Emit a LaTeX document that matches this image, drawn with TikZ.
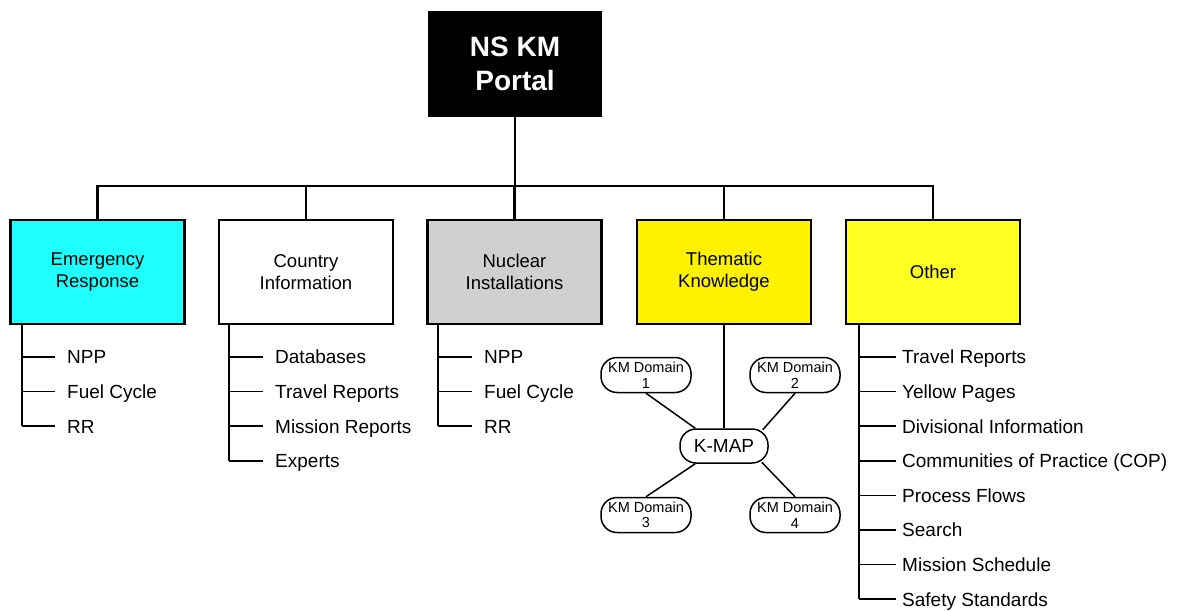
\documentclass[tikz,border=0pt]{standalone}
\usepackage{fontspec}
\setmainfont{Liberation Sans}
\begin{document}
\begin{tikzpicture}[x=1pt,y=-1pt,
  portal/.style={draw=black,fill=black,text=white,minimum width=173pt,minimum height=105pt,
    align=center,font=\fontsize{28}{34}\selectfont\bfseries},
  cat/.style={draw=black,line width=2.5pt,minimum width=174pt,minimum height=104pt,
    align=center,font=\fontsize{18.5}{22}\selectfont},
  item/.style={inner sep=0pt,anchor=west,text height=13.6pt,text depth=0pt,
    font=\fontsize{19}{22}\selectfont},
  link/.style={line width=2.2pt},
  branch/.style={line width=1.5pt},
  kmapnode/.style={draw=black,line width=1.5pt,rounded corners=16pt,minimum width=88pt,
    minimum height=34pt,inner sep=0pt,font=\fontsize{19}{22}\selectfont},
  kmdomain/.style={draw=black,line width=1.5pt,rounded corners=16pt,minimum width=90pt,
    minimum height=35pt,inner sep=0pt,align=center,font=\fontsize{14.5}{15.5}\selectfont},
]
\useasboundingbox (0,0) rectangle (1182,610);

% root
\node[portal] (portal) at (515,63.5) {NS KM\\Portal};

% categories
\node[cat,fill={rgb,255:red,31;green,255;blue,255}] (er) at (97.5,272) {Emergency\\Response};
\node[cat,fill=white] (ci) at (306,272) {Country\\Information};
\node[cat,fill={rgb,255:red,208;green,208;blue,208}] (ni) at (514.5,272) {Nuclear\\Installations};
\node[cat,fill=yellow] (tk) at (724,272) {Thematic\\Knowledge};
\node[cat,fill={rgb,255:red,255;green,255;blue,34}] (ot) at (933,272) {Other};

% bus
\coordinate (bus) at (515,186);
\draw[link] (portal.south) -- (bus);
\draw[link] (er.north) -- (er.north |- bus) -- (ot.north |- bus) -- (ot.north);
\draw[link] (ci.north) -- (ci.north |- bus);
\draw[link] (ni.north) -- (ni.north |- bus);
\draw[link] (tk.north) -- (tk.north |- bus);

% lists under the categories
\coordinate (er-top) at (22,324);
\foreach \t [count=\i from 0] in {NPP,Fuel Cycle,RR}
  \node[item] (er-\i) at (67,357+34.6*\i) {\t};
\draw[branch] (er-top) -- (er-top |- er-2.west);
\foreach \i in {0,1,2}
  \draw[branch] (er-top |- er-\i.west) -- ([xshift=-12pt]er-\i.west);

\coordinate (ci-top) at (229,324);
\foreach \t [count=\i from 0] in {Databases,Travel Reports,Mission Reports,Experts}
  \node[item] (ci-\i) at (275,357+34.6*\i) {\t};
\draw[branch] (ci-top) -- (ci-top |- ci-3.west);
\foreach \i in {0,...,3}
  \draw[branch] (ci-top |- ci-\i.west) -- ([xshift=-12pt]ci-\i.west);

\coordinate (ni-top) at (438,324);
\foreach \t [count=\i from 0] in {NPP,Fuel Cycle,RR}
  \node[item] (ni-\i) at (484,357+34.6*\i) {\t};
\draw[line width=2.4pt] (ni-top) -- (ni-top |- ni-2.west);
\foreach \i in {0,1,2}
  \draw[branch] (ni-top |- ni-\i.west) -- ([xshift=-12pt]ni-\i.west);

\coordinate (ot-top) at (859,324);
\foreach \t [count=\i from 0] in {Travel Reports,Yellow Pages,Divisional Information,
    Communities of Practice (COP),Process Flows,Search,Mission Schedule,Safety Standards}
  \node[item] (ot-\i) at (902,357+34.6*\i) {\t};
\draw[branch] (ot-top) -- (ot-top |- ot-7.west);
\foreach \i in {0,...,7}
  \draw[branch] (ot-top |- ot-\i.west) -- ([xshift=-6pt]ot-\i.west);

% knowledge map
\node[kmapnode] (kmap) at (724,446) {K-MAP};
\node[kmdomain] (d1) at (646,375) {KM Domain\\1};
\node[kmdomain] (d2) at (795,375) {KM Domain\\2};
\node[kmdomain] (d3) at (646,515) {KM Domain\\3};
\node[kmdomain] (d4) at (795,515) {KM Domain\\4};
\draw[link] (tk.south) -- (kmap.north);
\draw[branch] (d1.south) -- ([xshift=16pt]kmap.north west);
\draw[branch] (d2.south) -- ([xshift=-6pt,yshift=-1.5pt]kmap.north east);
\draw[branch] (d3.north) -- ([xshift=16pt]kmap.south west);
\draw[branch] (d4.north) -- ([xshift=-7pt,yshift=1.5pt]kmap.south east);
\end{tikzpicture}
\end{document}
